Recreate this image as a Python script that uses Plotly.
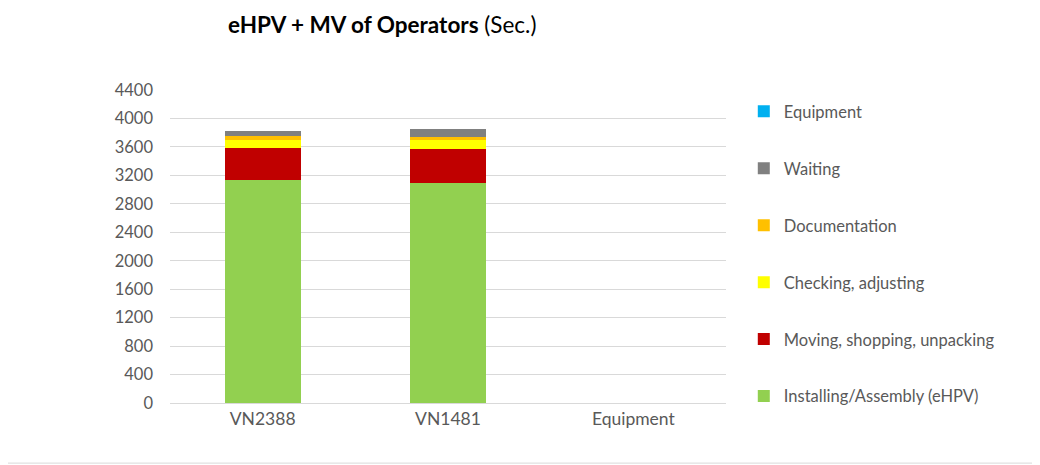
import plotly.graph_objects as go

# --------- DATA ----------
categories = ["VN2388", "VN1481", "Equipment"]

installing = [3135, 3090, None]
moving = [446, 478, None]
checking = [121, 131, None]
documentation = [56, 46, None]
waiting = [71, 104, None]
equipment = [None, None, None]

series = [
    ("Installing/Assembly (eHPV)", installing, "#92D050"),
    ("Moving, shopping, unpacking", moving, "#C00000"),
    ("Checking, adjusting", checking, "#FFFF00"),
    ("Documentation", documentation, "#FFC000"),
    ("Waiting", waiting, "#808080"),
    ("Equipment", equipment, "#00B0F0"),
]

FONT = "Lato"
GREY = "#595959"

fig = go.Figure()
for i, (name, vals, color) in enumerate(series):
    fig.add_trace(go.Bar(
        x=categories, y=vals, name=name, legendgroup=name,
        legendrank=len(series) - i,  # top of legend = top of stack
        marker=dict(color=color, line=dict(width=0)),
    ))

# page body has an 8px margin, so the figure is sized/offset to fit the window
fig.update_layout(
    width=1032, height=457,
    barmode="stack",
    bargap=0.59,
    paper_bgcolor="white",
    plot_bgcolor="white",
    margin=dict(l=162, r=314, t=82, b=62),
    font=dict(family=FONT, size=16, color=GREY),
    title=dict(
        text="<b>eHPV + MV of Operators</b> (Sec.)",
        font=dict(family=FONT, size=22.5, color="#000000"),
        xref="container", x=0.2132, xanchor="left",
        yref="container", y=0.963, yanchor="middle",
    ),
    legend=dict(
        traceorder="grouped",
        tracegroupgap=32.5,
        maxheight=440,
        x=1.032, xanchor="left",
        y=0.987, yanchor="top",
        font=dict(family=FONT, size=16.5, color=GREY),
        bgcolor="rgba(0,0,0,0)",
    ),
    shapes=[
        dict(type="line", xref="paper", yref="paper",
             x0=1.559, x1=1.559, y0=-0.192, y1=1.3,
             line=dict(color="#D9D9D9", width=1)),
        dict(type="line", xref="paper", yref="paper",
             x0=-0.3, x1=1.559, y0=-0.192, y1=-0.192,
             line=dict(color="#D9D9D9", width=1)),
    ],
)

fig.update_yaxes(
    range=[0, 4400], dtick=400, tick0=0,
    showgrid=True, gridcolor="#D9D9D9", gridwidth=1,
    zeroline=False, showline=False,
    ticks="", ticklen=0, ticklabelstandoff=16,
    tickfont=dict(family=FONT, size=16.5, color=GREY),
)
fig.update_xaxes(
    showline=True, linecolor="#D9D9D9", linewidth=1,
    ticks="", showgrid=False,
    tickfont=dict(family=FONT, size=17.5, color=GREY),
)

fig.write_html("out.html")
